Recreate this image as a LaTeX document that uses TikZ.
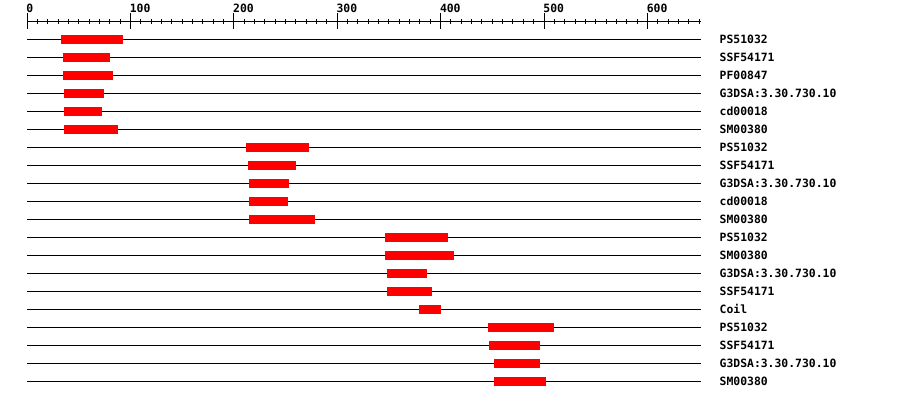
\documentclass[tikz,border=0pt]{standalone}
\usepackage{fontspec}
\usepackage{tikz}
\newfontfamily\dmmono{DejaVu Sans Mono}
\definecolor{dmRed}{HTML}{FF0000}
\definecolor{dmInk}{HTML}{000000}
\tikzset{
  dmline/.style={line width=1pt, draw=dmInk},
  dmbar/.style={draw=none, fill=dmRed},
  dmlabel/.style={
    anchor=base west,
    inner sep=0pt,
    text=dmInk,
    font=\dmmono\bfseries\fontsize{11.4}{13}\selectfont
  }
}
% residue -> pixel
\newcommand{\dmx}[1]{27+1.034*#1}

\begin{document}
\begin{tikzpicture}[x=1pt, y=-1pt]
  \useasboundingbox[fill=white] (0,0) rectangle (900,400);

  % ruler
  \draw[dmline] (27,21.5) -- (701,21.5);
  \foreach \t in {0,10,...,650}
    \draw[dmline] ({\dmx{\t}},19) -- ({\dmx{\t}},24);
  \foreach \t in {0,100,...,600} {
    \draw[dmline] ({\dmx{\t}},13) -- ({\dmx{\t}},29);
    \node[dmlabel] (tick\t) at ({\dmx{\t}-0.8},12) {\t};
  }

  % one row per domain hit
  \foreach \i/\from/\to/\lab in {
      1/33/93/PS51032,
      2/35/80/SSF54171,
      3/35/83/PF00847,
      4/36/74/G3DSA:3.30.730.10,
      5/36/73/cd00018,
      6/36/88/SM00380,
      7/212/273/PS51032,
      8/214/260/SSF54171,
      9/215/253/G3DSA:3.30.730.10,
      10/215/252/cd00018,
      11/215/279/SM00380,
      12/346/407/PS51032,
      13/346/413/SM00380,
      14/348/387/G3DSA:3.30.730.10,
      15/348/392/SSF54171,
      16/379/400/Coil,
      17/446/510/PS51032,
      18/447/496/SSF54171,
      19/452/496/G3DSA:3.30.730.10,
      20/452/502/SM00380} {
    \draw[dmline] (27,{21.5+18*\i}) -- (701,{21.5+18*\i});
    \fill[dmbar] ({\dmx{\from}},{17+18*\i}) rectangle ({\dmx{\to}},{26+18*\i});
    \node[dmlabel] (lab\i) at (719.5,{25.3+18*\i}) {\lab};
  }
\end{tikzpicture}
\end{document}
